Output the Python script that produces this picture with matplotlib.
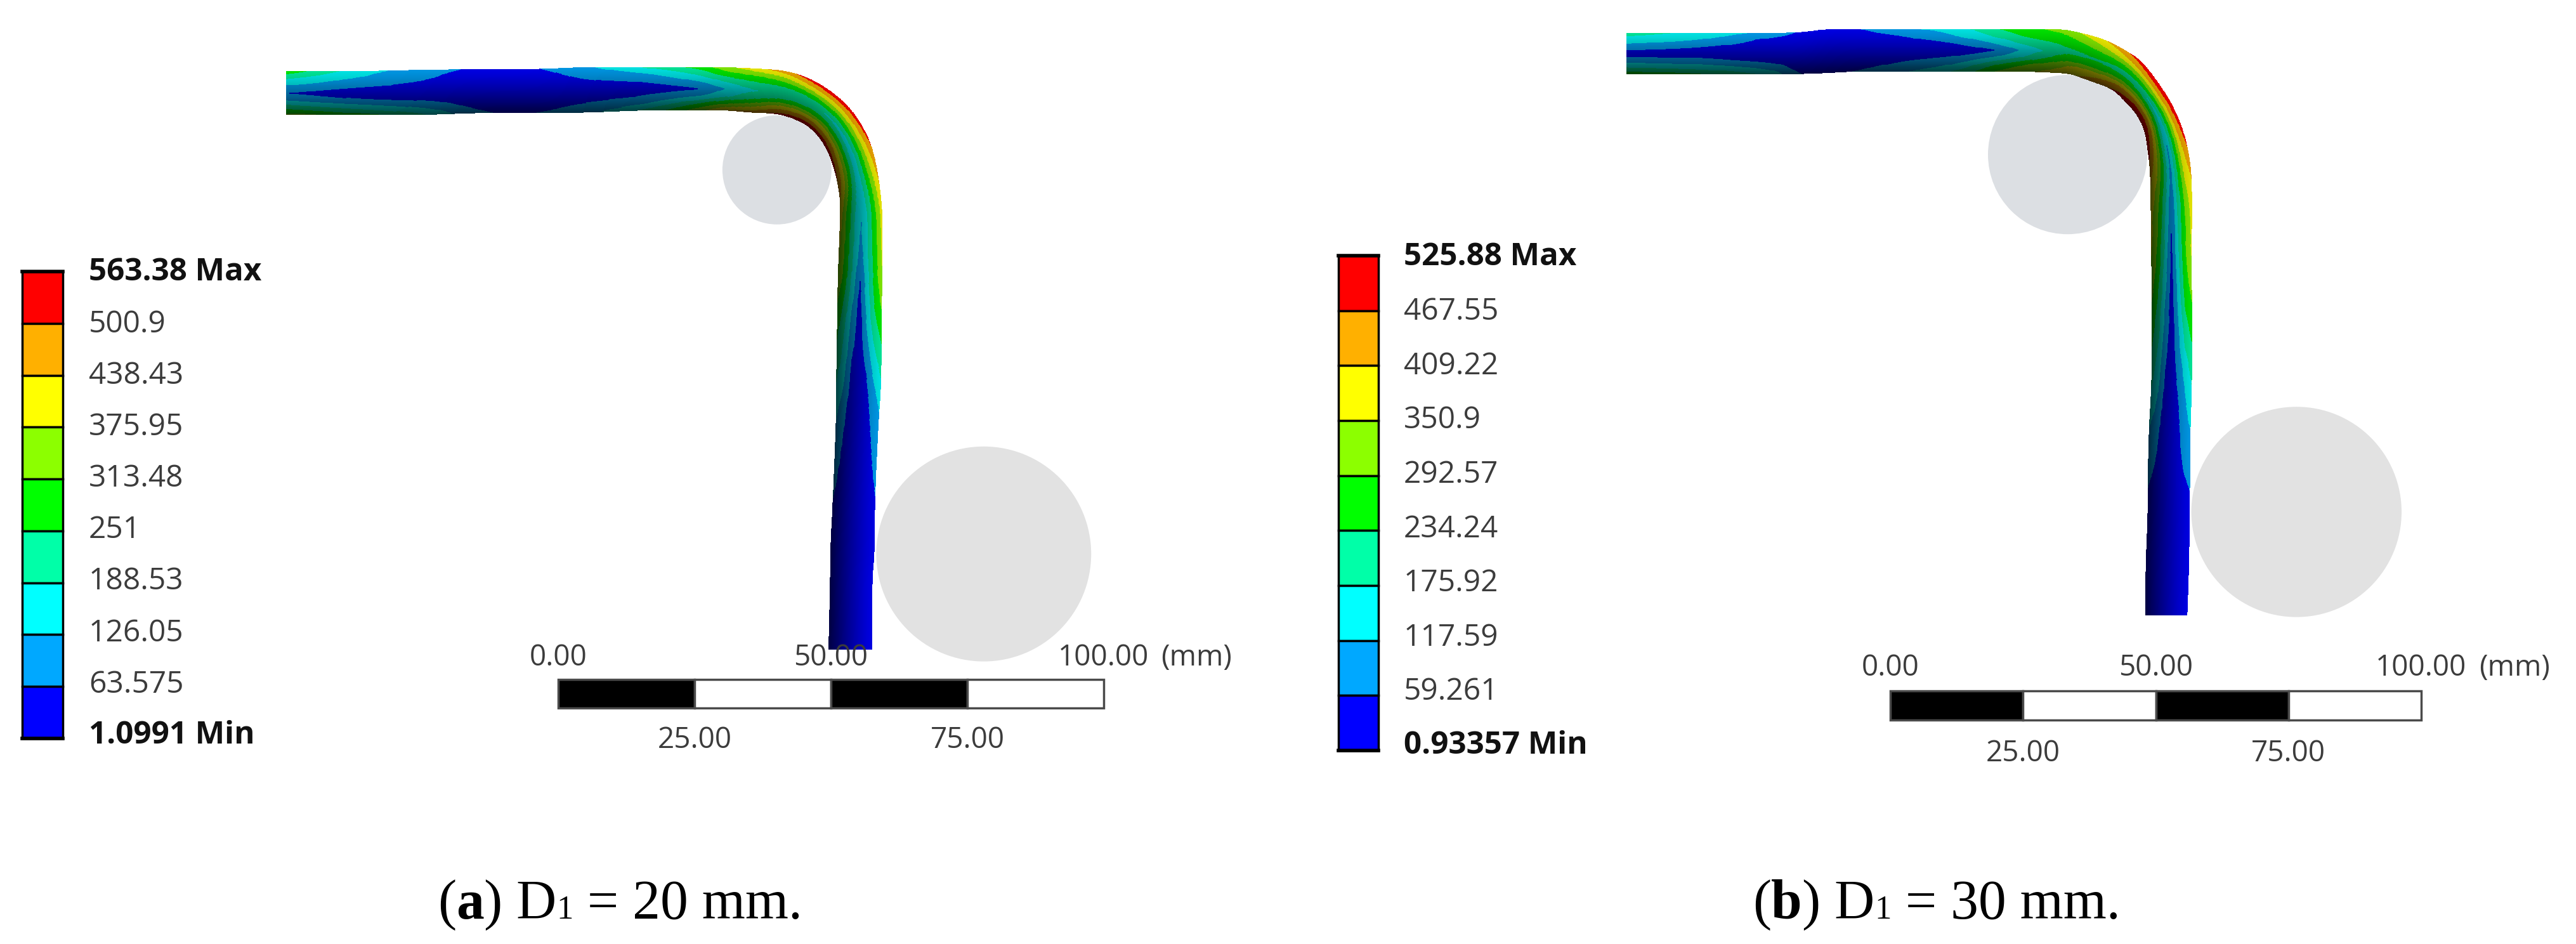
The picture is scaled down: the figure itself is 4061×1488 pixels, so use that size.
# %%
import matplotlib
matplotlib.use("Agg")
import matplotlib.pyplot as plt
import numpy as np
from matplotlib.colors import to_rgb
from matplotlib.patches import Circle

# %%
# band colours, low to high stress
band_colors = ["#0000ff", "#00a8ff", "#00ffff", "#00ffa8", "#00ff00",
               "#8cff00", "#ffff00", "#ffb000", "#ff0000"]

levels_a = [1.0991, 63.575, 126.05, 188.53, 251, 313.48, 375.95, 438.43, 500.9, 563.38]
labels_a = ["563.38 Max", "500.9", "438.43", "375.95", "313.48", "251",
            "188.53", "126.05", "63.575", "1.0991 Min"]
levels_b = [0.93357, 59.261, 117.59, 175.92, 234.24, 292.57, 350.9, 409.22, 467.55, 525.88]
labels_b = ["525.88 Max", "467.55", "409.22", "350.9", "292.57", "234.24",
            "175.92", "117.59", "59.261", "0.93357 Min"]

scale_ticks = [0, 25, 50, 75, 100]
scale_labels = ["0.00", "25.00", "50.00", "75.00", "100.00"]

# strip edges in mm (outer edge, inner edge)
outer_x_a = [-49.7, -37.9, -24.1, -15.0, -3.7, 4.6, 15.9, 25.8, 30.6, 36.8, 41.3, 45.3, 49.5,
             53.5, 56.7, 58.3, 59.4, 59.4, 59.4, 59.2, 59.2, 58.7, 58.0, 58.0, 57.5, 57.5]
outer_y_a = [111.4, 111.4, 111.7, 111.8, 111.8, 112.2, 112.2, 112.2, 112.2, 111.9, 111.6, 110.5, 108.2,
             104.8, 99.8, 94.7, 86.6, 78.9, 73.8, 66.5, 54.3, 48.0, 32.9, 23.6, 18.4, 5.6]
inner_x_a = [-49.7, -37.9, -24.1, -15.0, -3.7, 4.6, 15.9, 25.8, 30.6, 35.6, 39.7, 42.9, 46.3,
             49.1, 50.7, 51.5, 51.8, 51.5, 51.3, 51.2, 51.0, 51.0, 50.4, 49.9, 49.9, 49.6]
inner_y_a = [103.5, 103.5, 103.5, 103.9, 103.9, 103.9, 104.4, 104.4, 104.4, 103.9, 103.8, 103.0, 101.3,
             97.8, 93.5, 89.7, 86.6, 78.9, 73.8, 66.5, 54.3, 48.0, 32.9, 23.6, 18.4, 5.6]

# stress across the thickness at each station, outer side first
stress_a = [
    [290, 190, 120, 62, 120, 230, 340],
    [160, 120, 75, 30, 70, 170, 280],
    [90, 70, 50, 20, 60, 120, 200],
    [50, 30, 20, 10, 20, 40, 60],
    [55, 35, 20, 10, 20, 40, 58],
    [110, 80, 55, 20, 40, 70, 100],
    [190, 110, 62, 30, 62, 110, 190],
    [270, 190, 120, 50, 120, 240, 350],
    [350, 280, 190, 130, 170, 300, 440],
    [420, 310, 240, 190, 240, 350, 470],
    [470, 350, 260, 190, 260, 400, 510],
    [520, 410, 280, 190, 270, 420, 540],
    [545, 430, 300, 190, 280, 430, 545],
    [540, 430, 290, 170, 280, 430, 540],
    [520, 410, 280, 150, 270, 410, 520],
    [470, 370, 260, 150, 260, 380, 480],
    [400, 300, 200, 130, 200, 300, 410],
    [385, 290, 190, 110, 190, 290, 380],
    [370, 280, 170, 60, 170, 280, 370],
    [300, 240, 140, 30, 110, 200, 280],
    [180, 120, 50, 20, 40, 130, 190],
    [110, 70, 30, 15, 25, 70, 120],
    [58, 40, 20, 10, 20, 40, 58],
    [50, 30, 15, 10, 15, 30, 50],
    [40, 25, 15, 8, 15, 25, 40],
    [30, 20, 10, 5, 10, 20, 30],
]

outer_x_b = [-49.5, -37.4, -22.2, -17.2, -11.8, -6.8, 0.8, 12.2, 19.8, 25.1, 32.4, 35.8, 40.3, 44.1,
             47.2, 50.2, 53.3, 55.5, 56.7, 56.8, 56.7, 56.8, 56.8, 56.4, 56.4, 56.2, 55.9]
outer_y_b = [123.9, 123.9, 123.9, 123.9, 124.6, 124.6, 124.6, 124.6, 124.6, 124.6, 124.6, 123.9, 122.7, 120.7,
             118.7, 114.9, 110.1, 104.6, 98.2, 90.6, 82.3, 70.3, 58.4, 46.6, 34.7, 22.8, 14.3]
inner_x_b = [-49.5, -37.4, -22.2, -17.2, -11.8, -6.8, 0.8, 12.2, 19.8, 25.1, 32.4, 34.4, 37.7, 41.9,
             44.2, 46.3, 47.9, 48.5, 49.0, 49.1, 49.2, 49.3, 49.3, 48.6, 48.6, 48.1, 48.1]
inner_y_b = [116.2, 116.2, 116.2, 116.2, 116.4, 116.7, 116.7, 116.7, 116.7, 116.7, 116.4, 116.1, 114.9, 113.4,
             111.1, 108.8, 105.8, 102.0, 97.8, 90.6, 82.3, 70.3, 58.4, 46.6, 34.7, 22.8, 14.3]

stress_b = [
    [200, 150, 90, 30, 90, 170, 260],
    [170, 130, 70, 25, 80, 150, 250],
    [100, 40, 25, 15, 40, 100, 160],
    [50, 30, 15, 10, 15, 30, 50],
    [35, 25, 15, 10, 15, 30, 50],
    [50, 30, 15, 10, 15, 30, 58],
    [100, 50, 20, 10, 40, 65, 100],
    [140, 110, 55, 20, 60, 110, 170],
    [230, 180, 120, 50, 120, 230, 300],
    [270, 240, 190, 130, 180, 290, 340],
    [310, 270, 240, 220, 270, 340, 380],
    [350, 300, 250, 220, 270, 370, 400],
    [400, 340, 280, 230, 270, 390, 430],
    [450, 380, 280, 210, 280, 400, 470],
    [500, 420, 300, 200, 300, 440, 510],
    [520, 430, 300, 170, 300, 450, 520],
    [510, 420, 280, 150, 280, 440, 520],
    [490, 400, 260, 110, 260, 400, 510],
    [420, 370, 240, 100, 240, 360, 430],
    [370, 290, 190, 70, 190, 300, 370],
    [360, 280, 170, 40, 170, 280, 360],
    [270, 230, 130, 25, 100, 200, 270],
    [180, 120, 70, 25, 50, 130, 190],
    [100, 80, 25, 15, 25, 70, 90],
    [45, 30, 20, 10, 20, 30, 45],
    [35, 25, 15, 8, 15, 25, 35],
    [30, 20, 10, 5, 10, 20, 30],
]

# %%
W, H = 4062, 1488
fig = plt.figure(figsize=(W / 100, H / 100), dpi=100, facecolor="white")
plt.rcParams["font.family"] = ["Open Sans", "DejaVu Sans"]

# whole figure axes in picture pixels, for colour bars and captions
ax_px = fig.add_axes([0, 0, 1, 1])
ax_px.set_xlim(0, W)
ax_px.set_ylim(H, 0)
ax_px.axis("off")

TXT = 34.5
GREY = "#3c3c3c"
band_rgb = np.array([to_rgb(c) for c in band_colors])


def mmAxes(x0, y0, scale):
    # overlay axes in mm with 0,0 at the top left of the scale bar
    ax = fig.add_axes([0, 0, 1, 1])
    ax.set_xlim(-x0 / scale, (W - x0) / scale)
    ax.set_ylim((y0 - H) / scale, y0 / scale)
    ax.axis("off")
    ax.patch.set_alpha(0)
    return ax


def smooth(v, n):
    # moving average along the strip, rounds the corners of the read polylines
    # odd padding so the two ends of the strip stay where they are
    pad = np.concatenate([2 * v[0] - v[n:0:-1], v, 2 * v[-1] - v[-2:-n - 2:-1]])
    return np.convolve(pad, np.ones(2 * n + 1) / (2 * n + 1), mode="same")[n:-n]


def drawStrip(ax, ox, oy, ix, iy, stress, levels):
    stress = np.array(stress, dtype=float)
    n, m = stress.shape
    s = np.arange(n)
    s_f = np.linspace(0, n - 1, n * 40)
    t_f = np.linspace(0, 1, 72)

    ox, oy, ix, iy = [smooth(np.interp(s_f, s, v), 20) for v in (ox, oy, ix, iy)]
    X = ox[:, None] * (1 - t_f) + ix[:, None] * t_f
    Y = oy[:, None] * (1 - t_f) + iy[:, None] * t_f

    along = np.array([smooth(np.interp(s_f, s, stress[:, j]), 20) for j in range(m)])
    field = np.array([np.interp(t_f, np.linspace(0, 1, m), along[:, i]) for i in range(len(s_f))])

    band = np.clip(np.digitize(field, levels) - 1, 0, len(band_colors) - 1)
    # lighting, the inner side of the strip goes dark
    shade = 0.12 + 0.62 * t_f ** 1.2
    rgb = band_rgb[band] * (1 - shade)[None, :, None]
    ax.pcolormesh(X, Y, rgb, shading="nearest", antialiased=False, linewidth=0)


def drawScale(ax, bar_h, up, down, mm_x):
    colors = ["black", "white", "black", "white"]
    for i in range(4):
        ax.bar(scale_ticks[i], -bar_h, width=scale_ticks[i + 1] - scale_ticks[i], align="edge",
               color=colors[i], edgecolor="#4a4a4a", linewidth=2.5)
    for i, lab in enumerate(scale_labels):
        y = up if i % 2 == 0 else down
        ax.text(scale_ticks[i], y, lab, ha="center", va="center", fontsize=33, color=GREY)
    ax.text(mm_x, up, "(mm)", ha="left", va="center", fontsize=33, color=GREY)


def drawBar(x0, x1, top, bottom, lab_x, lab_top, lab_bottom, labels):
    h = (bottom - top) / 9
    for i, c in enumerate(band_colors[::-1]):
        ax_px.bar((x0 + x1) / 2, h, bottom=top + i * h, width=x1 - x0, color=c, edgecolor="black", linewidth=2.5)
    ax_px.plot([x0, x1], [top, top], color="black", lw=4)
    ax_px.plot([x0, x1], [bottom, bottom], color="black", lw=4)
    ys = np.linspace(lab_top, lab_bottom, len(labels))
    for i, lab in enumerate(labels):
        bold = i == 0 or i == len(labels) - 1
        ax_px.text(lab_x, ys[i], lab, ha="left", va="center", fontsize=35.5 if bold else TXT,
                   fontweight="bold" if bold else "normal", color="#111111" if bold else GREY)


def drawCaption(x, y, parts):
    # caption pieces are put one after the other, measured with the renderer
    r = fig.canvas.get_renderer()
    for s, weight, size in parts:
        tx = ax_px.text(x, y, s, ha="left", va="baseline", fontsize=size, fontweight=weight,
                        family="Liberation Serif", color="black")
        x += tx.get_window_extent(r).width
        if s.endswith(" "):
            x += size * 0.25 / 0.72


# %%
ax_a = mmAxes(880, 1071, 8.6)
ax_a.add_patch(Circle((40.1, 93.4), 10, fc="#dcdfe3", ec="none"))
ax_a.add_patch(Circle((78.0, 23.0), 19.7, fc="#e2e2e2", ec="none"))
drawStrip(ax_a, outer_x_a, outer_y_a, inner_x_a, inner_y_a, stress_a, levels_a)
drawScale(ax_a, 5.2, 3.95, -11.2, 110.5)
drawBar(35, 99, 428, 1164, 140, 430, 1160, labels_a)

ax_b = mmAxes(2980, 1089, 8.37)
ax_b.add_patch(Circle((33.4, 101.0), 15, fc="#dcdfe3", ec="none"))
ax_b.add_patch(Circle((76.5, 33.7), 19.8, fc="#e2e2e2", ec="none"))
drawStrip(ax_b, outer_x_b, outer_y_b, inner_x_b, inner_y_b, stress_b, levels_b)
drawScale(ax_b, 5.5, 4.3, -11.8, 110.9)
drawBar(2110, 2173, 403, 1183, 2213, 406, 1176, labels_b)

fig.canvas.draw()
drawCaption(690, 1448, [("(", "normal", 63), ("a", "bold", 63), (") D", "normal", 63), ("1", "normal", 38),
                        (" = 20 mm.", "normal", 63)])
drawCaption(2763, 1448, [("(", "normal", 63), ("b", "bold", 63), (") D", "normal", 63), ("1", "normal", 38),
                         (" = 30 mm.", "normal", 63)])

fig.savefig("out.png", dpi=100, facecolor="white")
